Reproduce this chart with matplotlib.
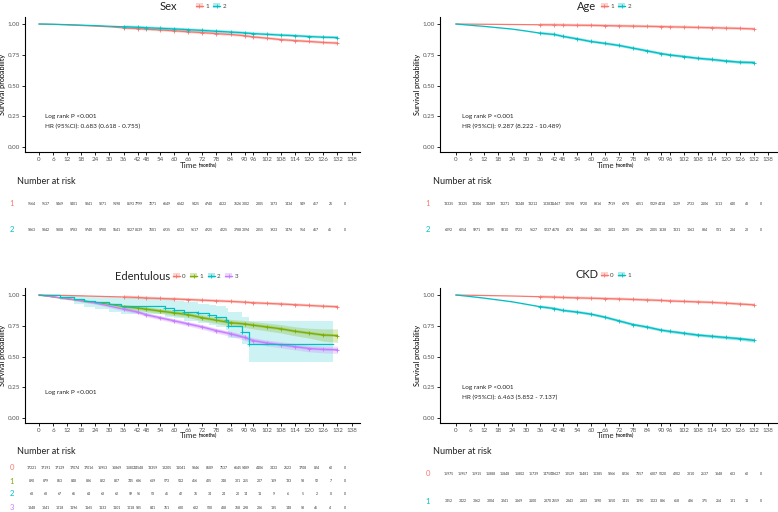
import numpy as np
import matplotlib
matplotlib.use('Agg')
import matplotlib.pyplot as plt
import matplotlib.transforms as mtransforms
from matplotlib.lines import Line2D
from matplotlib.patches import Patch

plt.rcParams['font.family'] = ['Lato', 'DejaVu Sans']

W, H = 778, 512
RED, GREEN, TEAL, PURPLE = '#F8766D', '#7CAE00', '#00BFC4', '#C77CFF'

# time grid (months) and the x axis breaks as printed
months = [0, 6, 12, 18, 24, 30, 36, 42, 48, 54, 60, 66, 72, 78, 84, 90, 96, 102, 108, 114, 120, 126, 132]
tick_labels = [0, 6, 12, 18, 24, 30, 36, 42, 48, 54, 60, 66, 72, 78, 84, 90, 96, 102, 108, 114, 120, 126, 132, 138]
# the original axis squeezes 42-48 and 90-96 together
tick_pos = [0, 1, 2, 3, 4, 5, 6, 7, 7.6, 8.6, 9.6, 10.6, 11.6, 12.6, 13.6, 14.6, 15.2, 16.2, 17.2, 18.2, 19.2, 20.2, 21.2, 22.2]

# ---- Sex ----
sex_1 = [1.0, 0.997, 0.993, 0.988, 0.983, 0.977, 0.968, 0.963, 0.958, 0.952, 0.945, 0.937, 0.930, 0.922,
         0.915, 0.905, 0.895, 0.885, 0.873, 0.865, 0.858, 0.850, 0.845]
sex_2 = [1.0, 0.998, 0.995, 0.991, 0.987, 0.982, 0.978, 0.974, 0.970, 0.965, 0.960, 0.954, 0.948, 0.941,
         0.935, 0.928, 0.922, 0.916, 0.910, 0.905, 0.898, 0.893, 0.890]
sex_risk_1 = [9564, 9537, 9469, 9401, 9341, 9271, 9198, 8593, 7799, 7271, 6649, 6042, 5425, 4740, 4122, 3626,
              3002, 2305, 1873, 1434, 949, 457, 26, 0]
sex_risk_2 = [9863, 9842, 9808, 9783, 9740, 9700, 9641, 9027, 8139, 7601, 6935, 6233, 5617, 4925, 4225, 3788,
              3094, 2355, 1923, 1476, 954, 467, 45, 0]

# ---- Age ----
age_1 = [1.0, 0.999, 0.998, 0.997, 0.996, 0.995, 0.994, 0.993, 0.992, 0.990, 0.989, 0.987, 0.985, 0.983,
         0.981, 0.979, 0.977, 0.975, 0.972, 0.970, 0.967, 0.964, 0.960]
age_2 = [1.0, 0.990, 0.981, 0.970, 0.959, 0.943, 0.926, 0.915, 0.900, 0.880, 0.858, 0.843, 0.826, 0.804,
         0.782, 0.760, 0.749, 0.736, 0.722, 0.712, 0.700, 0.690, 0.687]
age_2_ci = [0, 0.002, 0.002, 0.003, 0.003, 0.004, 0.004, 0.004, 0.005, 0.005, 0.005, 0.006, 0.006, 0.006,
            0.007, 0.007, 0.007, 0.008, 0.008, 0.008, 0.009, 0.010, 0.012]
age_risk_1 = [13335, 13325, 13306, 13289, 13271, 13248, 13212, 12383, 11467, 10598, 9720, 8816, 7919, 6970,
              6051, 5329, 4418, 3529, 2733, 2106, 1513, 640, 48, 0]
age_risk_2 = [6092, 6054, 5971, 5895, 5810, 5723, 5627, 5237, 4678, 4274, 3864, 3465, 3103, 2695, 2296, 2005,
              1638, 1331, 1063, 884, 531, 284, 23, 0]

# ---- Edentulous ----
ede_0 = [1.0, 0.998, 0.996, 0.993, 0.990, 0.987, 0.984, 0.980, 0.976, 0.972, 0.968, 0.963, 0.958, 0.953,
         0.948, 0.942, 0.937, 0.932, 0.927, 0.921, 0.915, 0.909, 0.905]
ede_1 = [1.0, 0.985, 0.970, 0.955, 0.940, 0.925, 0.905, 0.895, 0.885, 0.870, 0.855, 0.840, 0.815, 0.795,
         0.775, 0.765, 0.755, 0.740, 0.725, 0.705, 0.690, 0.675, 0.670]
ede_1_ci = [0, 0.005, 0.008, 0.010, 0.012, 0.014, 0.016, 0.018, 0.020, 0.021, 0.022, 0.023, 0.025, 0.026,
            0.027, 0.028, 0.030, 0.032, 0.034, 0.037, 0.040, 0.050, 0.055]
ede_3 = [1.0, 0.985, 0.970, 0.953, 0.935, 0.910, 0.885, 0.862, 0.840, 0.815, 0.790, 0.765, 0.740, 0.710,
         0.685, 0.655, 0.630, 0.610, 0.595, 0.580, 0.565, 0.558, 0.555]
ede_3_ci = [0, 0.004, 0.006, 0.008, 0.010, 0.012, 0.013, 0.014, 0.015, 0.016, 0.017, 0.018, 0.019, 0.020,
            0.021, 0.022, 0.023, 0.024, 0.025, 0.026, 0.027, 0.028, 0.030]
# group 2 is small (n=68) -> step curve with its own event times
ede_2_t = [0, 9, 15, 19, 24, 30, 35, 56, 60, 64, 70, 75, 78, 82, 83, 89, 93, 130]
ede_2 = [1.0, 0.985, 0.970, 0.955, 0.940, 0.925, 0.910, 0.895, 0.880, 0.865, 0.850, 0.835, 0.820, 0.800,
         0.750, 0.700, 0.600, 0.600]
ede_2_lo = [1.0, 0.957, 0.930, 0.905, 0.885, 0.865, 0.845, 0.825, 0.810, 0.790, 0.775, 0.755, 0.740, 0.715,
            0.650, 0.600, 0.455, 0.455]
ede_2_hi = [1.0, 1.0, 1.0, 0.995, 0.990, 0.980, 0.975, 0.965, 0.955, 0.945, 0.930, 0.920, 0.910, 0.895,
            0.860, 0.820, 0.790, 0.790]
ede_risk_0 = [17221, 17191, 17129, 17074, 17016, 16953, 16869, 15802, 14548, 13359, 12205, 11041, 9846, 8689,
              7537, 6645, 5489, 4406, 3433, 2623, 1708, 824, 60, 0]
ede_risk_1 = [890, 879, 863, 848, 836, 822, 807, 745, 686, 619, 573, 512, 456, 405, 348, 301, 255, 207, 169,
              133, 98, 52, 7, 0]
ede_risk_2 = [68, 68, 67, 66, 64, 63, 62, 59, 56, 53, 45, 42, 36, 34, 24, 20, 14, 11, 9, 6, 5, 2, 0, 0]
ede_risk_3 = [1248, 1241, 1218, 1196, 1165, 1133, 1101, 1018, 935, 841, 761, 680, 602, 530, 438, 368, 298,
              236, 185, 148, 98, 46, 4, 0]

# ---- CKD ----
ckd_0 = [1.0, 0.998, 0.996, 0.994, 0.992, 0.989, 0.986, 0.983, 0.980, 0.977, 0.974, 0.971, 0.968, 0.964,
         0.960, 0.956, 0.952, 0.948, 0.944, 0.940, 0.934, 0.927, 0.920]
ckd_1 = [1.0, 0.988, 0.975, 0.960, 0.945, 0.925, 0.905, 0.890, 0.875, 0.862, 0.845, 0.820, 0.790, 0.760,
         0.740, 0.715, 0.705, 0.690, 0.675, 0.665, 0.655, 0.645, 0.632]
ckd_1_ci = [0, 0.002, 0.003, 0.003, 0.004, 0.004, 0.005, 0.005, 0.006, 0.006, 0.007, 0.007, 0.008, 0.008,
            0.009, 0.009, 0.010, 0.010, 0.011, 0.011, 0.012, 0.013, 0.015]
ckd_risk_0 = [15975, 15957, 15915, 15888, 15848, 15802, 15739, 14750, 13627, 12529, 11481, 10385, 9266, 8236,
              7157, 6307, 5320, 4202, 3310, 2537, 1648, 603, 60, 0]
ckd_risk_1 = [3452, 3422, 3362, 3304, 3241, 3169, 3100, 2870, 2659, 2343, 2103, 1890, 1650, 1415, 1190, 1023,
              836, 658, 486, 375, 254, 121, 11, 0]


def fx(x):
    return x / W


def fy(y):
    return 1 - y / H


def to_axis(t):
    return np.interp(t, tick_labels, tick_pos)


def add_axes_px(left, top, right, bottom):
    return fig.add_axes([fx(left), fy(bottom), (right - left) / W, (bottom - top) / H])


def smooth_curve(ax, surv, color, ci=None):
    x = to_axis(months)
    s = np.array(surv)
    if ci is not None:
        c = np.array(ci)
        ax.fill_between(x, s - c, s + c, color=color, alpha=0.25, lw=0)
    ax.plot(x, s, color=color, lw=0.9)
    # censor marks, thick fuzzy line in the original
    m = np.array(months) >= 36
    ax.plot(x[m], s[m], color=color, lw=2.0, alpha=0.35, solid_capstyle='butt')
    ax.plot(x[m], s[m], ls='none', marker='+', ms=3, mew=0.6, color=color)


def style_axes(ax, x0, x1):
    ax.set_xlim(x0, x1)
    ax.set_ylim(-0.04, 1.057)
    for sp in ['top', 'right']:
        ax.spines[sp].set_visible(False)
    for sp in ['left', 'bottom']:
        ax.spines[sp].set_linewidth(0.8)
    ax.set_xticks(tick_pos)
    ax.set_xticklabels([str(v) for v in tick_labels])
    ax.set_yticks([0, 0.25, 0.5, 0.75, 1.0])
    ax.set_yticklabels(['0.00', '0.25', '0.50', '0.75', '1.00'])
    ax.tick_params(axis='both', labelsize=4.5, labelcolor='#555555', length=2, width=0.6, pad=1.5)
    ax.set_ylabel('Survival probability', fontsize=5.2)
    ax.yaxis.set_label_coords(-0.057, 0.5)


def header(title, tx, ty, lx, labels, colors):
    fig.text(fx(tx), fy(ty), title, ha='right', va='center', fontsize=8, color='#222222')
    handles = [(Patch(color=c, alpha=0.3, lw=0),
                Line2D([], [], color=c, lw=0.9, marker='+', ms=3, mew=0.6)) for c in colors]
    fig.legend(handles, labels, loc='center left', bbox_to_anchor=(fx(lx), fy(ty)), ncol=len(labels),
               frameon=False, fontsize=4.5, handlelength=1.1, handleheight=0.8, handletextpad=0.4,
               columnspacing=0.7, borderpad=0, borderaxespad=0, labelcolor='#444444')


def time_label(ax, y):
    ax_box = ax.get_position()
    xc = ax_box.x0 + (to_axis(66) - ax.get_xlim()[0]) / (ax.get_xlim()[1] - ax.get_xlim()[0]) * ax_box.width
    fig.text(xc + 0.012, fy(y), 'Time', ha='right', va='center', fontsize=5.8, color='#222222')
    fig.text(xc + 0.014, fy(y), '(months)', ha='left', va='center', fontsize=3.4,
             fontweight='bold', color='#222222')


def risk_table(ax, title_x, title_y, label_x, rows_y, rows, names, colors):
    fig.text(fx(title_x), fy(title_y), 'Number at risk', ha='left', va='center', fontsize=6.5,
             color='#222222')
    tr = mtransforms.blended_transform_factory(
        ax.transData + mtransforms.ScaledTranslation(-7 / 100, 0, fig.dpi_scale_trans), fig.transFigure)
    for ry, vals, name, c in zip(rows_y, rows, names, colors):
        fig.text(fx(label_x), fy(ry), name, ha='center', va='center', fontsize=5.5, color=c)
        for p, v in zip(tick_pos, vals):
            ax.text(p, fy(ry), str(v), transform=tr, ha='center', va='center', fontsize=2.5,
                    color='#333333')


def annot(ax, lines, y0, dy=0.08):
    for i, s in enumerate(lines):
        ax.text(0.45, y0 - i * dy, s, fontsize=4.6, color='#222222', va='center')


fig = plt.figure(figsize=(W / 100, H / 100), dpi=100)

# ---------- Sex ----------
ax1 = add_axes_px(25, 17, 360, 152)
smooth_curve(ax1, sex_1, RED)
smooth_curve(ax1, sex_2, TEAL)
style_axes(ax1, -1.0, 22.8)
annot(ax1, ['Log rank P <0.001', 'HR (95%CI): 0.683 (0.618 - 0.755)'], 0.245)
header('Sex', 177, 6, 196, ['1', '2'], [RED, TEAL])
time_label(ax1, 165)
risk_table(ax1, 17, 181, 12, [204, 230], [sex_risk_1, sex_risk_2], ['1', '2'], [RED, TEAL])

# ---------- Age ----------
ax2 = add_axes_px(440, 17, 777, 152)
smooth_curve(ax2, age_1, RED)
smooth_curve(ax2, age_2, TEAL, age_2_ci)
style_axes(ax2, -1.14, 22.85)
annot(ax2, ['Log rank P <0.001', 'HR (95%CI): 9.287 (8.222 - 10.489)'], 0.245)
header('Age', 596, 6, 601, ['1', '2'], [RED, TEAL])
time_label(ax2, 165)
risk_table(ax2, 433, 181, 428, [204, 230], [age_risk_1, age_risk_2], ['1', '2'], [RED, TEAL])

# ---------- Edentulous ----------
ax3 = add_axes_px(25, 288, 360, 423)
ax3.fill_between(to_axis(ede_2_t), ede_2_lo, ede_2_hi, step='post', color=TEAL, alpha=0.2, lw=0)
smooth_curve(ax3, ede_0, RED)
smooth_curve(ax3, ede_1, GREEN, ede_1_ci)
smooth_curve(ax3, ede_3, PURPLE, ede_3_ci)
ax3.step(to_axis(ede_2_t), ede_2, where='post', color=TEAL, lw=0.9)
ax3.plot(to_axis(ede_2_t[7:-1]), ede_2[7:-1], ls='none', marker='+', ms=3, mew=0.6, color=TEAL)
style_axes(ax3, -1.0, 22.8)
annot(ax3, ['Log rank P <0.001'], 0.21)
header('Edentulous', 170, 276, 173, ['0', '1', '2', '3'], [RED, GREEN, TEAL, PURPLE])
time_label(ax3, 435)
risk_table(ax3, 17, 452, 12, [468, 481, 494, 508], [ede_risk_0, ede_risk_1, ede_risk_2, ede_risk_3],
           ['0', '1', '2', '3'], [RED, GREEN, TEAL, PURPLE])

# ---------- CKD ----------
ax4 = add_axes_px(440, 288, 777, 423)
smooth_curve(ax4, ckd_0, RED)
smooth_curve(ax4, ckd_1, TEAL, ckd_1_ci)
style_axes(ax4, -1.14, 22.85)
annot(ax4, ['Log rank P <0.001', 'HR (95%CI): 6.463 (5.852 - 7.137)'], 0.245)
header('CKD', 598, 275, 601, ['0', '1'], [RED, TEAL])
time_label(ax4, 435)
risk_table(ax4, 433, 452, 428, [474, 501], [ckd_risk_0, ckd_risk_1], ['0', '1'], [RED, TEAL])

fig.savefig('out.png', dpi=100)
